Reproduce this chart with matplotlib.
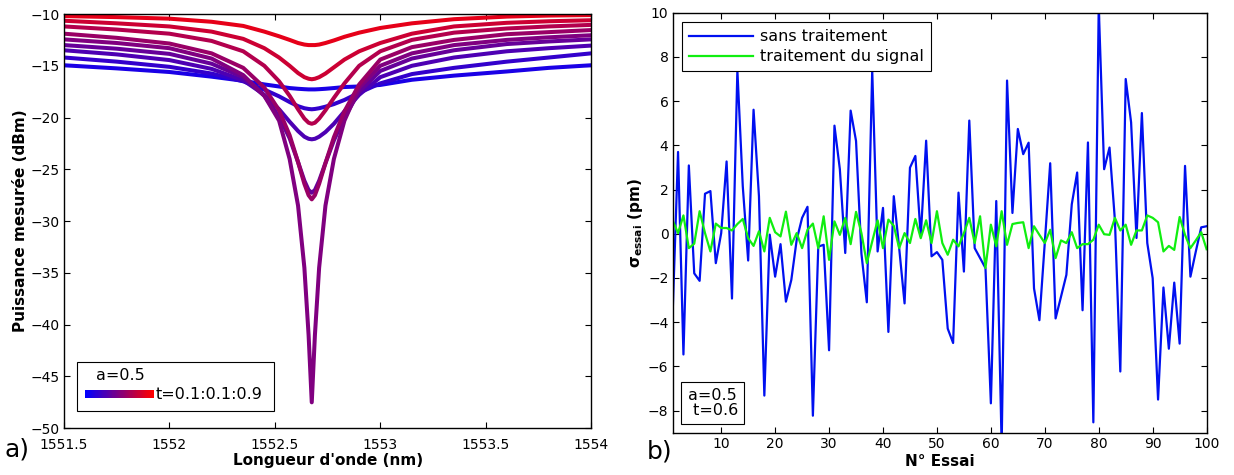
import matplotlib
matplotlib.use("Agg")
import matplotlib.pyplot as plt
from matplotlib.patches import Rectangle
import numpy as np

# ---- panel a) : ring resonator spectra, a = 0.5, t = 0.1 ... 0.9 ----
wl = [1551.5, 1551.75, 1552.0, 1552.2, 1552.35, 1552.45, 1552.52, 1552.57,
      1552.61, 1552.64, 1552.66, 1552.675, 1552.69, 1552.71, 1552.74, 1552.78,
      1552.83, 1552.9, 1553.0, 1553.15, 1553.35, 1553.6, 1553.8, 1554.0]
t_vals = [0.1, 0.2, 0.3, 0.4, 0.5, 0.6, 0.7, 0.8, 0.9]
p_t01 = [-14.95, -15.25, -15.6, -16.05, -16.45, -16.8, -17.0, -17.15, -17.22, -17.26, -17.28, -17.28,
         -17.28, -17.26, -17.22, -17.15, -17.05, -17.0, -16.85, -16.35, -15.95, -15.55, -15.2, -14.95]
p_t02 = [-14.2, -14.6, -15.1, -15.75, -16.5, -17.3, -17.95, -18.5, -18.9, -19.1, -19.17, -19.2,
         -19.17, -19.1, -18.95, -18.7, -18.3, -17.6, -16.7, -15.8, -15.2, -14.6, -14.2, -13.8]
p_t03 = [-13.5, -13.9, -14.45, -15.3, -16.4, -17.8, -19.2, -20.4, -21.3, -21.85, -22.05, -22.1,
         -22.05, -21.85, -21.4, -20.6, -19.4, -17.8, -16.1, -15.0, -14.2, -13.6, -13.3, -13.05]
p_t04 = [-13.0, -13.35, -13.85, -14.8, -16.1, -17.9, -19.9, -22.0, -24.3, -26.1, -27.0, -27.26,
         -27.0, -26.1, -24.4, -22.2, -20.0, -17.5, -15.5, -14.3, -13.5, -12.9, -12.65, -12.45]
p_t05 = [-12.45, -12.8, -13.3, -14.3, -15.9, -17.9, -20.3, -24.0, -28.5, -34.5, -41.0, -47.5,
         -41.0, -34.5, -28.5, -24.0, -20.3, -17.1, -15.0, -13.8, -13.0, -12.5, -12.25, -12.05]
p_t06 = [-11.9, -12.3, -12.85, -13.8, -15.2, -17.1, -19.3, -21.7, -24.3, -26.4, -27.5, -27.9,
         -27.5, -26.4, -24.4, -21.9, -19.4, -16.8, -14.4, -13.2, -12.5, -11.95, -11.75, -11.55]
p_t07 = [-11.2, -11.5, -11.9, -12.6, -13.6, -15.0, -16.5, -17.9, -19.2, -20.1, -20.5, -20.6,
         -20.5, -20.1, -19.3, -18.1, -16.7, -15.0, -13.6, -12.5, -11.8, -11.4, -11.2, -11.05]
p_t08 = [-10.65, -10.9, -11.2, -11.7, -12.4, -13.3, -14.2, -15.0, -15.7, -16.1, -16.25, -16.3,
         -16.25, -16.1, -15.75, -15.15, -14.4, -13.6, -12.8, -11.9, -11.2, -10.85, -10.7, -10.6]
p_t09 = [-10.2, -10.3, -10.45, -10.75, -11.15, -11.7, -12.15, -12.5, -12.8, -12.95, -13.0, -13.0,
         -13.0, -12.95, -12.8, -12.55, -12.2, -11.8, -11.35, -10.9, -10.5, -10.25, -10.15, -10.1]
spectra = [p_t01, p_t02, p_t03, p_t04, p_t05, p_t06, p_t07, p_t08, p_t09]

# ---- panel b) : sigma per trial ----
essai = list(range(1, 101))
sans_traitement = [
    -3.6, 3.7, -5.46, 3.09, -1.79, -2.13, 1.81, 1.93, -1.33, 0.03,
    3.27, -2.93, 7.4, 2.15, -1.21, 5.61, 1.7, -7.32, -0.04, -1.94,
    -0.47, -3.07, -2.09, -0.27, 0.72, 1.22, -8.23, -0.58, -0.5, -5.27,
    4.89, 2.92, -0.87, 5.57, 4.2, -0.9, -3.1, 7.4, -0.8, 1.17,
    -4.44, 1.7, -0.65, -3.15, 2.99, 3.52, -0.12, 4.21, -1.02, -0.83,
    -1.18, -4.29, -4.94, 1.86, -1.71, 5.12, -0.65, -1.1, -1.55, -7.67,
    1.48, -9.6, 6.93, 0.94, 4.74, 3.6, 4.12, -2.47, -3.91, -0.4,
    3.19, -3.83, -2.85, -1.86, 1.33, 2.77, -3.46, 4.13, -8.53, 10.3,
    2.92, 3.9, 0.6, -6.23, 7.0, 5.04, -0.19, 5.46, -0.42, -2.01,
    -7.5, -2.43, -5.2, -2.21, -4.97, 3.07, -1.94, -0.8, 0.29, 0.34]
traitement = [
    0.6, 0.03, 0.83, -0.65, -0.45, 1.02, 0.03, -0.8, 0.46, 0.26,
    0.26, 0.15, 0.44, 0.67, -0.2, -0.55, 0.11, -0.8, 0.72, 0.07,
    -0.12, 1.0, -0.5, 0.03, -0.65, 0.18, 0.46, -0.65, 0.79, -1.18,
    0.56, -0.05, 0.72, -0.47, 0.99, 0.03, -1.33, -0.35, 0.61, -0.65,
    0.64, 0.36, -0.65, 0.03, -0.42, 0.67, -0.2, 0.61, -0.42, 1.02,
    -0.42, -0.95, -0.27, -0.57, 0.03, 0.72, -0.42, 0.79, -1.55, 0.41,
    -0.57, 1.02, -0.5, 0.44, 0.49, 0.52, -0.65, 0.34, -0.05, -0.42,
    0.18, -1.1, -0.3, -0.42, 0.07, -0.65, -0.47, -0.47, -0.27, 0.41,
    -0.02, -0.05, 0.72, 0.15, 0.41, -0.5, 0.15, 0.15, 0.83, 0.72,
    0.52, -0.8, -0.55, -0.73, 0.76, -0.05, -0.65, -0.3, 0.07, -0.7]

plt.rcParams['font.family'] = ['DejaVu Sans']
plt.rcParams['xtick.direction'] = 'in'
plt.rcParams['ytick.direction'] = 'in'

fig = plt.figure(figsize=(12.34, 4.75), dpi=100)
ax1 = fig.add_axes([0.0519, 0.0985, 0.4271, 0.872])
ax2 = fig.add_axes([0.5451, 0.0890, 0.4327, 0.8843])

# panel a
for t, p in zip(t_vals, spectra):
    ax1.plot(wl, p, color=(t, 0.0, 1.0 - t), lw=2.9, solid_joinstyle='round')
ax1.set_xlim(1551.5, 1554)
ax1.set_ylim(-50, -10)
ax1.set_xticks(np.arange(1551.5, 1554.01, 0.5))
ax1.set_xticklabels(['1551.5', '1552', '1552.5', '1553', '1553.5', '1554'])
ax1.set_yticks(np.arange(-50, -9, 5))
ax1.set_xlabel("Longueur d'onde (nm)", fontweight='bold', fontsize=11, labelpad=1)
ax1.set_ylabel("Puissance mesurée (dBm)", fontweight='bold', fontsize=11, labelpad=2)

# hand made legend with colour gradient
ax1.add_patch(Rectangle((0.025, 0.041), 0.373, 0.118, transform=ax1.transAxes,
                        facecolor='white', edgecolor='black', lw=0.8, zorder=5))
ax1.text(0.06, 0.128, 'a=0.5', transform=ax1.transAxes, fontsize=11.5,
         va='center', zorder=6)
nseg = 60
for k in range(nseg):
    f = k / (nseg - 1)
    ax1.add_patch(Rectangle((0.04 + 0.129 * k / nseg, 0.072), 0.129 / nseg + 0.001, 0.02,
                            transform=ax1.transAxes, facecolor=(f, 0, 1 - f),
                            edgecolor='none', zorder=6))
ax1.text(0.173, 0.081, 't=0.1:0.1:0.9', transform=ax1.transAxes, fontsize=11.5,
         va='center', zorder=6)

# panel b
ax2.plot(essai, sans_traitement, color='#0010f0', lw=1.6, label='sans traitement')
ax2.plot(essai, traitement, color='#10ee10', lw=1.6, label='traitement du signal')
ax2.set_xlim(1, 100)
ax2.set_ylim(-9, 10)
ax2.set_xticks(range(10, 101, 10))
ax2.set_yticks(range(-8, 11, 2))
ax2.set_xlabel('N° Essai', fontweight='bold', fontsize=11, labelpad=2)
ax2.set_ylabel(r'$\mathbf{\sigma_{essai}}$ (pm)', fontweight='bold', fontsize=11, labelpad=2)
leg = ax2.legend(loc='upper left', fontsize=11.5, fancybox=False, framealpha=1,
                 edgecolor='black', borderaxespad=0.6, handlelength=4.0,
                 handletextpad=0.4, borderpad=0.45, labelspacing=0.3)
leg.get_frame().set_linewidth(0.8)
leg.set_zorder(10)
ax2.text(0.028, 0.035, 'a=0.5\n t=0.6', transform=ax2.transAxes, fontsize=11.5,
         va='bottom', ha='left', linespacing=1.0,
         bbox=dict(boxstyle='square,pad=0.4', facecolor='white', edgecolor='black', lw=0.8))

for ax in (ax1, ax2):
    ax.tick_params(top=True, right=True, labelsize=10, length=4, width=0.8, pad=3)
    for s in ax.spines.values():
        s.set_linewidth(1.0)
ax1.tick_params(axis='x', pad=7)

fig.text(0.004, 0.04, 'a)', fontsize=18)
fig.text(0.524, 0.035, 'b)', fontsize=18)

fig.savefig('out.png', dpi=100)
